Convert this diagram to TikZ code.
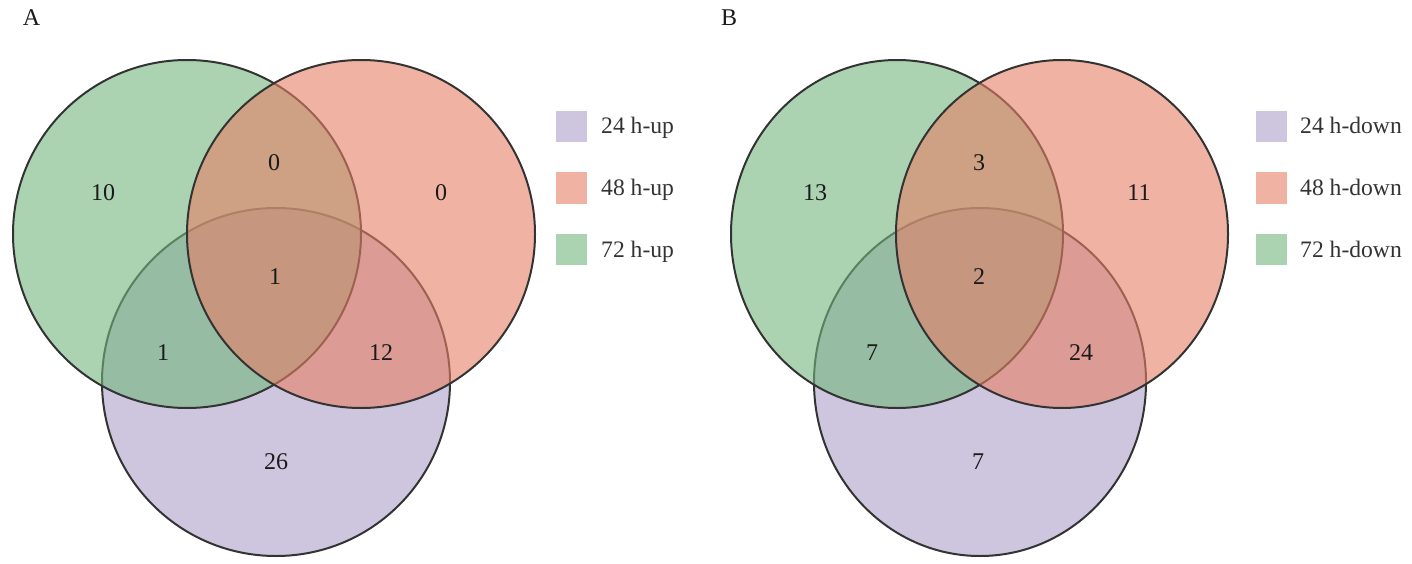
\documentclass[tikz,border=0pt]{standalone}
\usepackage{fontspec}
\setmainfont{Liberation Serif}
\definecolor{cpurple}{RGB}{173,160,200}
\definecolor{cred}{RGB}{230,128,102}
\definecolor{cgreen}{RGB}{115,182,125}
\definecolor{edge}{RGB}{51,51,51}
\definecolor{txt}{RGB}{26,26,26}
\tikzset{
  setcircle/.style={draw=edge, line width=2pt, fill opacity=0.6},
  count/.style={font=\fontsize{24}{29}\selectfont, text=txt, inner sep=0pt},
  legtxt/.style={font=\fontsize{23.6}{28}\selectfont, text=edge, anchor=base west, inner sep=0pt},
  legbox/.style={minimum width=31pt, minimum height=31pt, inner sep=0pt, fill opacity=0.6},
  panel/.style={font=\fontsize{24}{29}\selectfont, text=txt, inner sep=0pt}
}
\begin{document}
\begin{tikzpicture}[x=1pt,y=-1pt]
\useasboundingbox (0,0) rectangle (1412,564);
% ---------- Panel A ----------
\node[panel] (labA) at (31.5,18) {A};
\draw[setcircle, fill=cpurple] (276,382) circle [radius=174pt];
\draw[setcircle, fill=cgreen] (187,234) circle [radius=174pt];
\draw[setcircle, fill=cred] (361,234) circle [radius=174pt];
\node[count] (a1) at (103,193) {10};
\node[count] (a2) at (274,163) {0};
\node[count] (a3) at (441,193) {0};
\node[count] (a4) at (275,277) {1};
\node[count] (a5) at (163,353) {1};
\node[count] (a6) at (381,353) {12};
\node[count] (a7) at (276,462) {26};
% legend A
\node[legbox, fill=cpurple] (la1) at (571,126.5) {};
\node[legbox, fill=cred] (la2) at (571,188) {};
\node[legbox, fill=cgreen] (la3) at (571,249.5) {};
\node[legtxt] (lta1) at (601,134) {24 h-up};
\node[legtxt] (lta2) at (601,196) {48 h-up};
\node[legtxt] (lta3) at (601,257.5) {72 h-up};
% ---------- Panel B ----------
\node[panel] (labB) at (729,17.5) {B};
\draw[setcircle, fill=cpurple] (980,382) ellipse [x radius=166pt, y radius=174pt];
\draw[setcircle, fill=cgreen] (897,234) ellipse [x radius=166pt, y radius=174pt];
\draw[setcircle, fill=cred] (1062,234) ellipse [x radius=166pt, y radius=174pt];
\node[count] (b1) at (815,193) {13};
\node[count] (b2) at (979,163) {3};
\node[count] (b3) at (1139,193) {11};
\node[count] (b4) at (979,277) {2};
\node[count] (b5) at (872,353) {7};
\node[count] (b6) at (1081,353) {24};
\node[count] (b7) at (978,462) {7};
% legend B
\node[legbox, fill=cpurple] (lb1) at (1271,126.5) {};
\node[legbox, fill=cred] (lb2) at (1271,188) {};
\node[legbox, fill=cgreen] (lb3) at (1271,249.5) {};
\node[legtxt] (ltb1) at (1300,134) {24 h-down};
\node[legtxt] (ltb2) at (1300,196) {48 h-down};
\node[legtxt] (ltb3) at (1300,257.5) {72 h-down};
\end{tikzpicture}
\end{document}
